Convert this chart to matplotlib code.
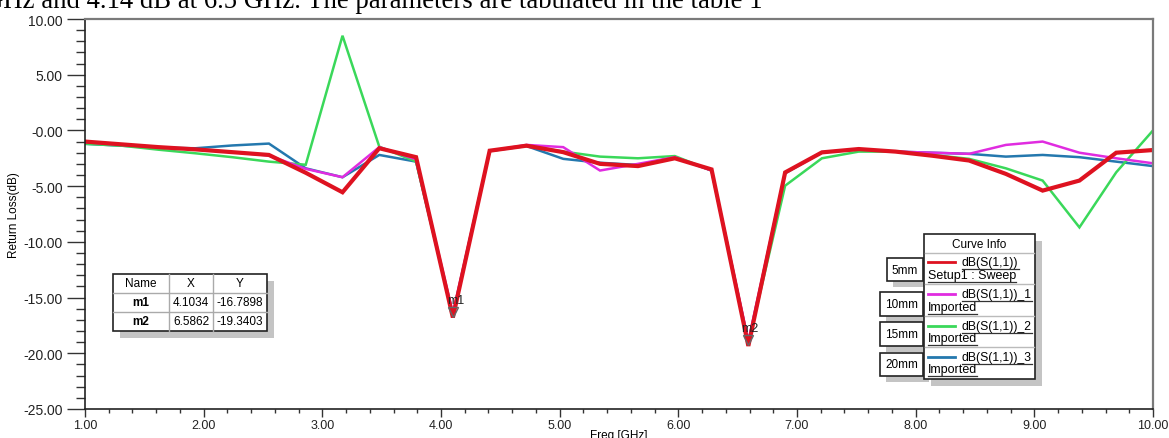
import numpy as np
import matplotlib.pyplot as plt
from matplotlib.patches import Rectangle
from matplotlib.lines import Line2D

plt.rcParams['font.family'] = ['Liberation Sans', 'DejaVu Sans']

# sweep points (GHz)
freq = [1.00, 1.31, 1.62, 1.93, 2.24, 2.55, 2.86, 3.17, 3.48, 3.79,
        4.10, 4.41, 4.72, 5.03, 5.34, 5.66, 5.97, 6.28, 6.59, 6.90,
        7.21, 7.52, 7.83, 8.14, 8.45, 8.76, 9.07, 9.38, 9.69, 10.00]

s11_5mm = [-1.0, -1.25, -1.5, -1.7, -1.95, -2.2, -3.8, -5.55, -1.6, -2.4,
           -16.79, -1.82, -1.37, -1.95, -3.0, -3.2, -2.5, -3.5, -19.34, -3.77,
           -1.97, -1.67, -1.9, -2.27, -2.7, -3.9, -5.4, -4.5, -2.0, -1.76]
s11_10mm = [-1.05, -1.3, -1.5, -1.7, -1.95, -2.25, -3.45, -4.2, -1.5, -2.6,
            -16.4, -1.85, -1.3, -1.5, -3.6, -3.0, -2.4, -3.6, -18.9, -3.8,
            -1.95, -1.7, -1.9, -2.0, -2.1, -1.3, -1.0, -2.0, -2.5, -2.95]
s11_15mm = [-1.2, -1.37, -1.73, -2.05, -2.4, -2.8, -3.08, 8.5, -1.46, -2.8,
            -16.5, -1.85, -1.35, -1.9, -2.35, -2.5, -2.3, -3.6, -19.1, -4.96,
            -2.5, -1.9, -1.9, -2.2, -2.55, -3.4, -4.5, -8.7, -3.76, 0.0]
s11_20mm = [-1.2, -1.37, -1.55, -1.6, -1.35, -1.18, -3.4, -4.2, -2.2, -2.8,
            -16.6, -1.85, -1.4, -2.55, -2.9, -3.1, -2.4, -3.6, -19.0, -3.85,
            -1.97, -1.7, -1.9, -2.0, -2.1, -2.35, -2.2, -2.4, -2.8, -3.2]

labels = ['5mm', '10mm', '15mm', '20mm']
curve_names = ['dB(S(1,1))', 'dB(S(1,1))_1', 'dB(S(1,1))_2', 'dB(S(1,1))_3']
curve_src = ['Setup1 : Sweep', 'Imported', 'Imported', 'Imported']

marker_names = ['m1', 'm2']
marker_x = [4.1034, 6.5862]
marker_y = [-16.7898, -19.3403]

xticks = [1, 2, 3, 4, 5, 6, 7, 8, 9, 10]
xtick_labels = ['1.00', '2.00', '3.00', '4.00', '5.00', '6.00', '7.00', '8.00', '9.00', '10.00']
yticks = [10, 5, 0, -5, -10, -15, -20, -25]
ytick_labels = ['10.00', '5.00', '-0.00', '-5.00', '-10.00', '-15.00', '-20.00', '-25.00']

W, H = 1169, 439
fig = plt.figure(figsize=(W / 100, H / 100), dpi=100)


def px(x, y):
    return x / W, 1 - y / H


ax = fig.add_axes([85 / W, 1 - 410 / H, 1068 / W, 390 / H])

series = [s11_20mm, s11_15mm, s11_10mm, s11_5mm]
colors = {'5mm': '#de1220', '10mm': '#e02ce0', '15mm': '#3ad85a', '20mm': '#2478ae'}
widths = {'5mm': 3.0, '10mm': 1.8, '15mm': 1.8, '20mm': 1.8}
for lab, s in zip(['20mm', '15mm', '10mm', '5mm'], series):
    ax.plot(freq, s, color=colors[lab], lw=widths[lab], solid_joinstyle='miter')

for name, mx, my in zip(marker_names, marker_x, marker_y):
    ax.plot(mx, my + 0.5, marker='v', ms=7, mfc='none', mec='#666666', mew=1)
    ax.text(mx + 0.02, my + 1.6, name, ha='center', va='center', fontsize=9, color='#222222')

ax.set_xlim(1, 10)
ax.set_ylim(-25, 10)
ax.set_xticks(xticks)
ax.set_xticklabels(xtick_labels)
ax.set_yticks(yticks)
ax.set_yticklabels(ytick_labels)
ax.set_xticks(np.arange(1, 10.01, 0.2), minor=True)
ax.set_yticks(np.arange(-25, 10.01, 1), minor=True)
ax.tick_params(axis='y', which='major', length=13, width=1, labelsize=10, pad=3,
               color='#333333', labelcolor='#222222')
ax.tick_params(axis='y', which='minor', length=6.5, width=1, color='#333333')
ax.tick_params(axis='x', which='major', length=6, width=1, labelsize=9, pad=1,
               color='#333333', labelcolor='#222222')
ax.tick_params(axis='x', which='minor', length=3, width=1, color='#333333')
for sp in ['top', 'right']:
    ax.spines[sp].set_color('#7a7a7a')
    ax.spines[sp].set_linewidth(1.6)
for sp in ['left', 'bottom']:
    ax.spines[sp].set_color('#222222')
    ax.spines[sp].set_linewidth(1.2)

ax.set_xlabel('Freq [GHz]', fontsize=8.5, labelpad=-1.5)
ax.set_ylabel('Return Loss(dB)', fontsize=8.5, labelpad=2)

# document text cut at the top
fig.text(762 / W, 1 - 8 / H, 'GHz and 4.14 dB at 6.5 GHz. The parameters are tabulated in the table 1',
         ha='right', va='baseline', fontsize=19.3, family=['Liberation Serif', 'DejaVu Serif'])


def box(x0, y0, x1, y1, shadow=7, ec='#222222', lw=1.2):
    if shadow:
        fig.add_artist(Rectangle(px(x0 + shadow, y1 + shadow), (x1 - x0) / W, (y1 - y0) / H,
                                 transform=fig.transFigure, fc='#c4c4c4', ec='none', zorder=5))
    fig.add_artist(Rectangle(px(x0, y1), (x1 - x0) / W, (y1 - y0) / H,
                             transform=fig.transFigure, fc='white', ec=ec, lw=lw, zorder=6))


def hline(x0, x1, y, color='#aaaaaa', lw=1):
    fig.add_artist(Line2D([x0 / W, x1 / W], [1 - y / H, 1 - y / H], transform=fig.transFigure,
                          color=color, lw=lw, zorder=7))


def vline(x, y0, y1, color='#aaaaaa', lw=1):
    fig.add_artist(Line2D([x / W, x / W], [1 - y0 / H, 1 - y1 / H], transform=fig.transFigure,
                          color=color, lw=lw, zorder=7))


# marker table
box(113, 275, 267, 332)
col_x = [113, 169, 213, 267]
row_y = [275, 294, 313, 332]
for x in col_x[1:-1]:
    vline(x, 275, 332)
for y in row_y[1:-1]:
    hline(113, 267, y)
header = ['Name', 'X', 'Y']
for j, h in enumerate(header):
    cx = (col_x[j] + col_x[j + 1]) / 2
    fig.text(*px(cx, 284.5), h, ha='center', va='center', fontsize=8.5, zorder=8)
for i in range(len(marker_names)):
    cy = (row_y[i + 1] + row_y[i + 2]) / 2
    cells = [marker_names[i], '%.4f' % marker_x[i], '%.4f' % marker_y[i]]
    for j, c in enumerate(cells):
        cx = (col_x[j] + col_x[j + 1]) / 2
        fig.text(*px(cx, cy), c, ha='center', va='center', fontsize=8.5, zorder=8,
                 weight='bold' if j == 0 else 'normal')

# curve info legend
box(924, 235, 1035, 380)
fig.text(*px(979.5, 244.5), 'Curve Info', ha='center', va='center', fontsize=8.5, zorder=8)
row_div = [254, 285, 316.5, 348]
for y in row_div:
    hline(925, 1034, y, color='#bbbbbb')
line1_y = [263, 295, 327, 358]
line2_y = [276, 308, 339, 370]
lab_boxes = [(887, 259, 923, 282), (880, 293, 923, 317), (880, 323, 923, 347), (880, 354, 923, 377)]

fig.canvas.draw()
renderer = fig.canvas.get_renderer()


def underlined(x, y, s, size):
    t = fig.text(*px(x, y), s, ha='left', va='center', fontsize=size, zorder=8)
    bb = t.get_window_extent(renderer)
    yb = H - bb.y0 + 0.5
    hline(bb.x0, bb.x1, yb, color='#333333', lw=0.9)


for k, lab in enumerate(labels):
    fig.add_artist(Line2D([928 / W, 955 / W], [1 - line1_y[k] / H] * 2, transform=fig.transFigure,
                          color=colors[lab], lw=2, zorder=8))
    underlined(962, line1_y[k], curve_names[k], 8.7)
    underlined(928, line2_y[k], curve_src[k], 9)
    x0, y0, x1, y1 = lab_boxes[k]
    box(x0, y0, x1, y1, shadow=6)
    fig.text(*px((x0 + x1) / 2, (y0 + y1) / 2), lab, ha='center', va='center', fontsize=8.5, zorder=8)

fig.savefig('out.png', dpi=100)
